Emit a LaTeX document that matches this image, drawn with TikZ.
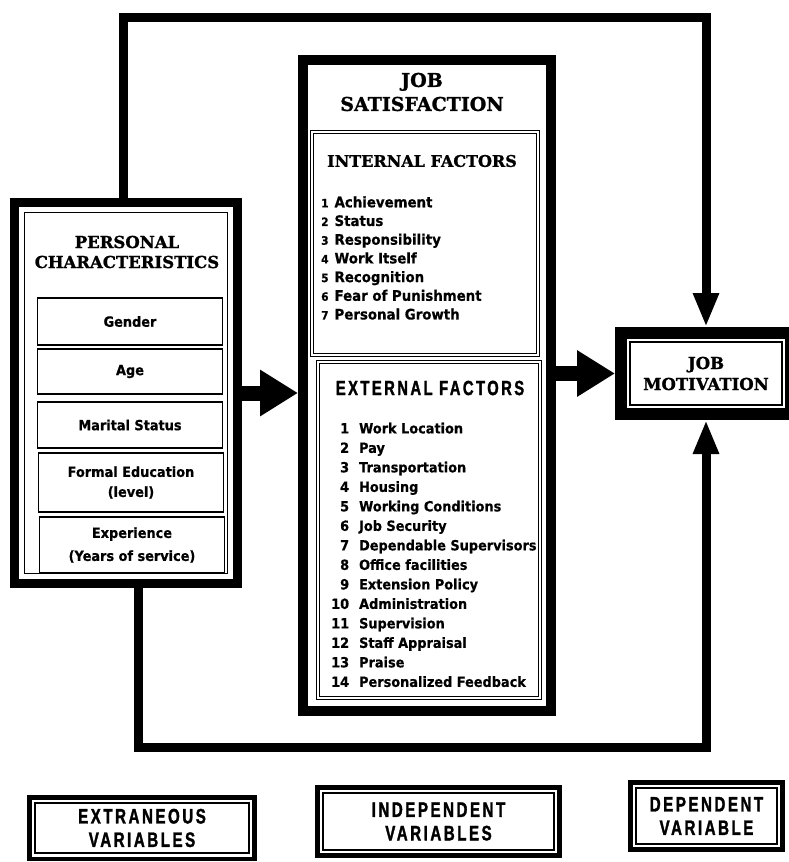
\documentclass[tikz,border=0pt]{standalone}
\usepackage{fontspec}
\usepackage{array}
\usetikzlibrary{arrows.meta}
\newfontfamily\titlefont[BoldFeatures={FakeBold=1.2}]{DejaVu Serif}
\newfontfamily\itemfont[FakeStretch=0.92,BoldFeatures={FakeBold=0.6}]{DejaVu Sans}
\newfontfamily\stencilfont[UprightFont={* Bold},FakeStretch=0.72,LetterSpace=12,FakeBold=1.5]{Liberation Sans}
\begin{document}
\begin{tikzpicture}[x=1pt,y=-1pt]
  \tikzset{heavybox/.style 2 args={draw,line width=#1,inner sep=0pt,
      path picture={\draw[line width=1.6pt]
        ([shift={(#2,-#2)}]path picture bounding box.north west) rectangle
        ([shift={(-#2,#2)}]path picture bounding box.south east);}},
    subbox/.style={draw,line width=1.8pt,minimum width=185,inner sep=0pt,align=center,
      font=\itemfont\bfseries\fontsize{14}{20}\selectfont},
    fbox/.style={draw,line width=0.9pt,double,double distance=1.4pt,inner sep=0pt},
    ttl/.style 2 args={align=center,inner sep=0pt,font=\titlefont\bfseries\fontsize{#1}{#2}\selectfont},
    lgbox/.style={heavybox={4.5pt}{5.5pt},align=center,
      font=\stencilfont\fontsize{21}{23.5}\selectfont},
    loopline/.style={line width=9pt,-{Triangle[length=34pt,width=24pt]}},
    bigarrow/.style={line width=15pt,-{Triangle[length=38pt,width=44pt]}}}
  \useasboundingbox (0,0) rectangle (788,862);
  % personal characteristics
  \node[heavybox={9pt}{10pt},minimum width=223,minimum height=381] (pc) at (126,393) {};
  \node[ttl={16.5}{20}] (pctitle) at (127,252) {PERSONAL\\CHARACTERISTICS};
  \node[subbox,minimum height=47] (gender) at (130,321.5) {Gender};
  \node[subbox,minimum height=45] (age) at (130,371.5) {Age};
  \node[subbox,minimum height=46] (marital) at (130,425) {Marital Status};
  \node[subbox,minimum height=59] (educ) at (131,482.5) {Formal Education\\(level)};
  \node[subbox,minimum height=56] (exper) at (132,545) {Experience\\[3pt](Years of service)};
  % job satisfaction
  \node[draw,line width=10pt,minimum width=248,minimum height=651] (js) at (427,385.5) {};
  \node[ttl={19}{24}] (jstitle) at (422,92) {JOB\\SATISFACTION};
  \node[fbox,minimum width=226,minimum height=223] (intf) at (425,243.5) {};
  \node[ttl={16}{20}] (inttitle) at (422,161) {INTERNAL FACTORS};
  \node[anchor=north west,inner sep=0pt,font=\itemfont\bfseries\fontsize{14.5}{18.7}\selectfont] (intlist) at (321,194)
    {\begin{tabular}{@{}>{\fontsize{11.5}{18.7}\selectfont}r@{\hspace{6pt}}l@{}}
      1 & Achievement\\ 2 & Status\\ 3 & Responsibility\\ 4 & Work Itself\\
      5 & Recognition\\ 6 & Fear of Punishment\\ 7 & Personal Growth
    \end{tabular}};
  \node[fbox,minimum width=222,minimum height=336] (extf) at (429,530) {};
  \node[inner sep=0pt,font=\stencilfont\fontsize{20.5}{22}\selectfont] (exttitle) at (430,388) {EXTERNAL FACTORS};
  \node[anchor=north west,inner sep=0pt,font=\itemfont\bfseries\fontsize{14}{19.5}\selectfont] (extlist) at (331,419.5)
    {\begin{tabular}{@{}r@{\hspace{10pt}}l@{}}
      1 & Work Location\\ 2 & Pay\\ 3 & Transportation\\ 4 & Housing\\
      5 & Working Conditions\\ 6 & Job Security\\ 7 & Dependable Supervisors\\
      8 & Office facilities\\ 9 & Extension Policy\\ 10 & Administration\\
      11 & Supervision\\ 12 & Staff Appraisal\\ 13 & Praise\\ 14 & Personalized Feedback
    \end{tabular}};
  % job motivation
  \node[heavybox={12pt}{9pt},minimum width=170,minimum height=81,align=center,
    font=\titlefont\bfseries\fontsize{16.5}{21}\selectfont] (jm) at (706,373.5) {JOB\\MOTIVATION};
  % connectors
  \draw[bigarrow] (pc.east) -- (pc.east -| js.west);
  \draw[bigarrow] (js.east |- jm.west) -- (jm.west);
  \coordinate (tl) at (123,17);
  \coordinate (bl) at (138,747);
  \draw[loopline] (pc.north -| tl) -- (tl) -| (jm.north);
  \draw[loopline] (pc.south -| bl) -- (bl) -| (jm.south);
  % legend
  \node[lgbox,minimum width=225,minimum height=61.5] (extr) at (142,828) {EXTRANEOUS\\VARIABLES};
  \node[lgbox,minimum width=242,minimum height=68] (indep) at (438.5,821.5) {INDEPENDENT\\VARIABLES};
  \node[lgbox,minimum width=152,minimum height=67] (dep) at (706.5,816) {DEPENDENT\\VARIABLE};
\end{tikzpicture}
\end{document}
